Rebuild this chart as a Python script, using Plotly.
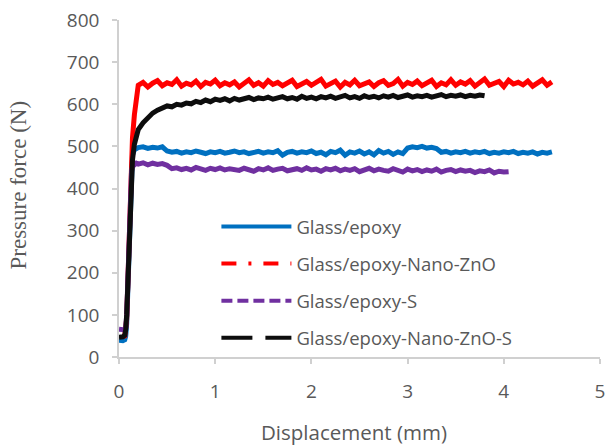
import plotly.graph_objects as go

# ---- data ----
series_names = ["Glass/epoxy", "Glass/epoxy-Nano-ZnO", "Glass/epoxy-S", "Glass/epoxy-Nano-ZnO-S"]
series_colors = ["#0070C0", "#FF0000", "#7030A0", "#0D0D0D"]
series_dash = ["solid", "15px,12px,3px,12px", "11px,5px", "31px,13px"]

x_ticks = [0, 1, 2, 3, 4, 5]
y_ticks = [0, 100, 200, 300, 400, 500, 600, 700, 800]

# common displacement grid of the plateau region (mm)
x_grid = [
    0.20, 0.25, 0.30, 0.35, 0.40, 0.45, 0.50, 0.55, 0.60, 0.65,
    0.70, 0.75, 0.80, 0.85, 0.90, 0.95, 1.00, 1.05, 1.10, 1.15,
    1.20, 1.25, 1.30, 1.35, 1.40, 1.45, 1.50, 1.55, 1.60, 1.65,
    1.70, 1.75, 1.80, 1.85, 1.90, 1.95, 2.00, 2.05, 2.10, 2.15,
    2.20, 2.25, 2.30, 2.35, 2.40, 2.45, 2.50, 2.55, 2.60, 2.65,
    2.70, 2.75, 2.80, 2.85, 2.90, 2.95, 3.00, 3.05, 3.10, 3.15,
    3.20, 3.25, 3.30, 3.35, 3.40, 3.45, 3.50, 3.55, 3.60, 3.65,
    3.70, 3.75, 3.80, 3.85, 3.90, 3.95, 4.00, 4.05, 4.10, 4.15,
    4.20, 4.25, 4.30, 4.35, 4.40, 4.45, 4.50,
]

# Glass/epoxy
glass_rise_x = [0.00, 0.02, 0.04, 0.06, 0.07, 0.08, 0.09, 0.10, 0.11, 0.12, 0.13, 0.14, 0.16, 0.18]
glass_rise_y = [40, 38, 39, 41, 50, 80, 150, 250, 340, 410, 455, 480, 492, 496]
glass_plateau_y = [
    497, 499, 495, 498, 496, 499, 489, 486, 488, 484,
    487, 485, 489, 486, 483, 487, 485, 488, 484, 486,
    489, 485, 487, 483, 486, 488, 484, 487, 485, 490,
    479, 486, 488, 484, 487, 485, 489, 483, 486, 480,
    488, 485, 491, 479, 487, 484, 489, 482, 487, 480,
    490, 484, 488, 481, 487, 483, 496, 499, 497, 500,
    496, 498, 495, 486, 488, 484, 487, 485, 488, 484,
    487, 485, 488, 483, 486, 484, 487, 485, 488, 483,
    486, 484, 487, 482, 486, 484, 487,
]

# Glass/epoxy-Nano-ZnO
zno_rise_x = [0.04, 0.06, 0.08, 0.10, 0.12, 0.14, 0.16, 0.18]
zno_rise_y = [48, 50, 90, 230, 400, 520, 575, 610]
zno_plateau_y = [
    645, 652, 641, 650, 656, 644, 651, 647, 658, 643,
    650, 646, 655, 642, 652, 648, 657, 644, 651, 646,
    653, 641, 649, 658, 645, 651, 643, 656, 647, 652,
    644, 650, 657, 642, 649, 654, 645, 651, 659, 643,
    648, 655, 641, 652, 646, 657, 644, 650, 653, 642,
    651, 656, 645, 649, 659, 643, 652, 647, 655, 644,
    650, 657, 642, 651, 646, 658, 645, 653, 648, 656,
    643, 651, 660, 645, 650, 654, 642, 657, 648, 652,
    646, 655, 643, 651, 658, 645, 653,
]

# Glass/epoxy-S
s_rise_x = [0.00, 0.02, 0.04, 0.06, 0.07, 0.08, 0.09, 0.10, 0.11, 0.12, 0.13, 0.14, 0.16, 0.18]
s_rise_y = [66, 67, 65, 64, 70, 100, 170, 260, 350, 410, 440, 452, 458, 460]
s_plateau_y = [
    458, 461, 456, 460, 457, 459, 455, 447, 449, 445,
    448, 444, 450, 446, 443, 448, 445, 449, 444, 447,
    446, 443, 448, 445, 441, 447, 444, 449, 443, 446,
    448, 442, 445, 447, 443, 449, 444, 446, 441, 447,
    444, 448, 442, 446, 443, 447, 440, 445, 448, 442,
    446, 443, 441, 447, 444, 439, 446, 442, 445, 440,
    444, 441, 446, 439, 443, 445, 440, 444, 441, 443,
    438, 442, 440, 444, 437, 441, 439, 440,
]

# Glass/epoxy-Nano-ZnO-S
zs_rise_x = [0.00, 0.02, 0.04, 0.06, 0.07, 0.08, 0.09, 0.10, 0.11, 0.12, 0.13, 0.14, 0.16, 0.18]
zs_rise_y = [47, 46, 48, 52, 65, 100, 170, 260, 340, 400, 440, 468, 505, 527]
zs_plateau_y = [
    540, 556, 568, 579, 586, 591, 596, 594, 600, 598,
    603, 601, 607, 604, 610, 606, 612, 609, 613, 608,
    614, 610, 612, 616, 611, 615, 613, 617, 612, 615,
    618, 613, 616, 612, 619, 614, 617, 613, 618, 615,
    619, 614, 617, 621, 615, 618, 614, 620, 616, 619,
    615, 620, 617, 621, 616, 619, 622, 617, 620, 618,
    621, 617, 620, 623, 618, 621, 619, 622, 618, 621,
    619, 622, 620,
]

series_x = [
    glass_rise_x + x_grid[:len(glass_plateau_y)],
    zno_rise_x + x_grid[:len(zno_plateau_y)],
    s_rise_x + x_grid[:len(s_plateau_y)],
    zs_rise_x + x_grid[:len(zs_plateau_y)],
]
series_y = [
    glass_rise_y + glass_plateau_y,
    zno_rise_y + zno_plateau_y,
    s_rise_y + s_plateau_y,
    zs_rise_y + zs_plateau_y,
]

TXT = "#595959"
AXIS = "#D0D0D0"

fig = go.Figure()
# measured curves (dense noisy records drawn as continuous thick bands)
for name, color, xs, ys in zip(series_names, series_colors, series_x, series_y):
    fig.add_trace(go.Scatter(
        x=xs, y=ys, mode="lines", name=name, showlegend=False,
        line=dict(color=color, width=5),
    ))
# legend entries with the series' line styles
for i, (name, color, dash) in enumerate(zip(series_names, series_colors, series_dash)):
    fig.add_trace(go.Scatter(
        x=[None], y=[None], mode="lines", name=name, legendgroup=f"g{i}",
        line=dict(color=color, width=4, dash=dash),
    ))

fig.update_layout(
    width=606, height=445,
    margin=dict(l=119, r=6, t=20, b=88),
    paper_bgcolor="white", plot_bgcolor="white",
    font=dict(family="Open Sans", size=19, color=TXT),
    legend=dict(
        x=0.2025, y=0.442, xanchor="left", yanchor="top",
        bgcolor="rgba(0,0,0,0)", itemwidth=70,
        traceorder="grouped", tracegroupgap=10,
        font=dict(family="Open Sans", size=18.5, color=TXT),
    ),
    xaxis=dict(
        range=[0, 5], tickvals=x_ticks, showgrid=False, zeroline=False,
        showline=True, linecolor=AXIS, linewidth=1.5,
        ticks="outside", ticklen=5, tickcolor=AXIS, tickwidth=1.5,
        ticklabelstandoff=11, automargin=False,
    ),
    yaxis=dict(
        range=[0, 800], tickvals=y_ticks, showgrid=False, zeroline=False,
        showline=True, linecolor=AXIS, linewidth=1.5,
        ticks="outside", ticklen=5, tickcolor=AXIS, tickwidth=1.5,
        ticklabelstandoff=9, automargin=False,
    ),
    annotations=[
        dict(text="Displacement (mm)", xref="paper", yref="paper", x=0.5, y=0,
             xanchor="center", yanchor="middle", xshift=-6, yshift=-75, showarrow=False,
             font=dict(family="Open Sans", size=20.5, color=TXT)),
        dict(text="Pressure force (N)", xref="paper", yref="paper", x=0, y=0.5,
             xanchor="center", yanchor="middle", xshift=-101, yshift=3, textangle=-90,
             showarrow=False, font=dict(family="Liberation Serif", size=23, color=TXT)),
    ],
)

fig.write_html("out.html", config={"displayModeBar": False},
               post_script="document.body.style.margin='0px';")
